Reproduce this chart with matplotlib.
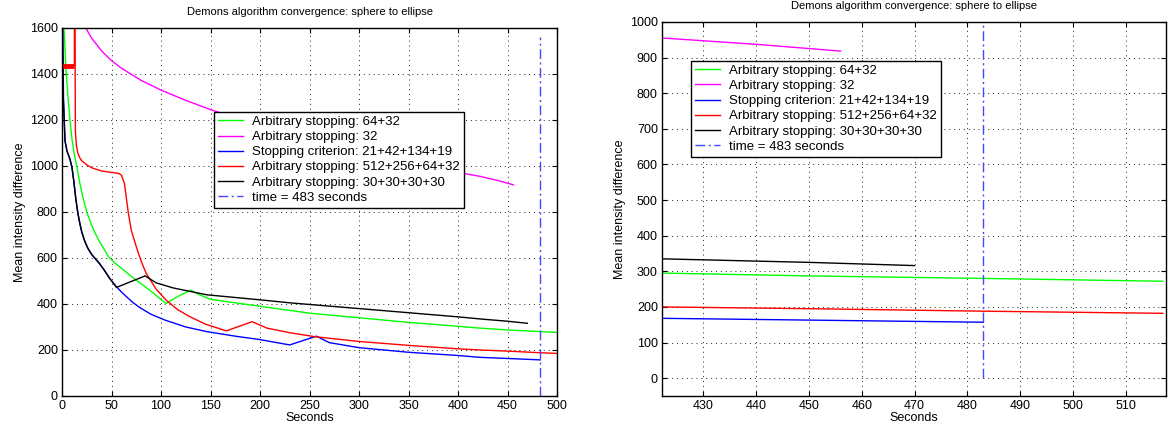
import matplotlib
matplotlib.use('Agg')  # no display
import matplotlib.pyplot as plt

plt.rcParams['font.family'] = ['Liberation Sans', 'DejaVu Sans']

TITLE = 'Demons algorithm convergence: sphere to ellipse'
STOP_TIME = 483

# series (seconds, mean intensity difference)
green_t = [1.5, 2, 4, 6, 8, 10, 12, 15, 18, 21, 25, 29, 33, 38, 43, 47, 55, 62, 70, 76, 83,
           90, 97, 105, 118, 130, 140, 150, 175, 200, 250, 300, 350, 400, 422, 450, 483, 500,
           517]
green_v = [1750, 1600, 1420, 1300, 1200, 1120, 1060, 995, 925, 865, 800, 752, 712, 670, 635,
           605, 572, 548, 520, 500, 478, 455, 430, 402, 435, 460, 438, 420, 405, 390, 360,
           340, 320, 303, 295, 287, 280, 276, 272]

magenta_t = [24, 30, 40, 50, 60, 80, 100, 125, 150, 200, 250, 300, 350, 400, 422, 440, 456]
magenta_v = [1600, 1555, 1500, 1458, 1425, 1372, 1330, 1285, 1245, 1175, 1115, 1062, 1010,
             972, 955, 937, 918]

blue_t = [0.5, 1.5, 3, 5, 8, 10, 12, 14, 16, 18, 20, 23, 26, 30, 34, 38, 43, 48, 55, 60, 65,
          72, 79, 90, 104, 125, 146, 175, 200, 230, 257, 270, 300, 350, 400, 422, 450, 483]
blue_v = [1700, 1300, 1110, 1065, 1030, 995, 930, 855, 795, 750, 712, 672, 643, 615, 595,
          575, 545, 512, 475, 452, 432, 405, 383, 355, 330, 300, 280, 260, 245, 222, 260, 232,
          210, 190, 176, 168, 163, 157]

red_t = [0, 12.5, 12.5, 13, 13.5, 14.5, 16, 18, 20, 25, 30, 40, 50, 57, 60, 63, 65, 67, 70,
         75, 80, 85, 95, 105, 117, 129, 145, 166, 192, 207, 230, 255, 300, 350, 400, 422,
         450, 483, 517]
red_v = [1435, 1435, 1700, 1700, 1150, 1090, 1055, 1035, 1022, 1005, 992, 978, 972, 968,
         960, 925, 860, 795, 720, 649, 585, 533, 465, 417, 375, 345, 312, 283, 323, 295, 275,
         258, 237, 220, 205, 200, 195, 188, 182]

black_t = [0.2, 1.2, 3, 5, 8, 10, 12, 14, 16, 18, 20, 23, 26, 30, 34, 38, 43, 48, 55, 70,
           84, 95, 112, 146, 200, 230, 300, 350, 400, 422, 450, 470]
black_v = [1700, 1300, 1110, 1065, 1030, 995, 930, 855, 795, 750, 712, 672, 643, 615, 595,
           575, 545, 512, 472, 498, 522, 492, 470, 440, 418, 405, 380, 362, 344, 335, 325,
           316]

labels = ['Arbitrary stopping: 64+32', 'Arbitrary stopping: 32',
          'Stopping criterion: 21+42+134+19', 'Arbitrary stopping: 512+256+64+32',
          'Arbitrary stopping: 30+30+30+30', 'time = 483 seconds']

left_xticks = list(range(0, 501, 50))
left_yticks = list(range(0, 1601, 200))
right_xticks = list(range(430, 511, 10))
right_yticks = list(range(0, 1001, 100))

fig = plt.figure(figsize=(11.68, 4.34), dpi=100)
ax1 = fig.add_axes([0.0531, 0.0876, 0.4238, 0.848])
ax2 = fig.add_axes([0.5668, 0.0876, 0.4315, 0.862])


def draw(ax):
    ax.plot(green_t, green_v, color='#00ff00', lw=1)
    ax.plot(magenta_t, magenta_v, color='#ff00ff', lw=1)
    ax.plot(blue_t, blue_v, color='#0000ff', lw=1)
    ax.plot(red_t, red_v, color='#ff0000', lw=1)
    ax.plot(black_t, black_v, color='black', lw=1)
    ax.plot([STOP_TIME, STOP_TIME], [0, 1560], color='#4646ff', lw=1,
            dashes=(7, 2.5, 1.5, 2.5))
    # the thick flat bit at the start of the red run
    ax.plot(red_t[:2], red_v[:2], color='#ff0000', lw=3.5, solid_capstyle='butt')
    ax.grid(True, color='#222222', lw=0.7, linestyle=(0, (1, 4)))
    ax.tick_params(direction='in', top=True, right=True, length=3.5, labelsize=9,
                   pad=3, width=0.8)
    for s in ax.spines.values():
        s.set_linewidth(1.0)
    ax.set_title(TITLE, fontsize=8, pad=9)
    ax.set_xlabel('Seconds', fontsize=9, labelpad=0)
    ax.set_ylabel('Mean intensity difference', fontsize=9, labelpad=3)
    handles = ax.get_lines()[:6]
    leg = ax.legend(handles, labels, fontsize=9.5, fancybox=False, framealpha=1,
                    edgecolor='black', handlelength=1.9, labelspacing=0.22,
                    borderpad=0.3, handletextpad=0.7, borderaxespad=0,
                    loc='upper left')
    leg.get_frame().set_linewidth(1.0)
    return leg


leg1 = draw(ax1)
leg1.set_bbox_to_anchor((0.307, 0.772), transform=ax1.transAxes)
ax1.set_xlim(0, 500)
ax1.set_ylim(0, 1600)
ax1.set_xticks(left_xticks)
ax1.set_yticks(left_yticks)

leg2 = draw(ax2)
leg2.set_bbox_to_anchor((0.0575, 0.896), transform=ax2.transAxes)
ax2.set_xlim(422.2, 517.6)
ax2.set_ylim(-50, 1000)
ax2.set_xticks(right_xticks)
ax2.set_yticks(right_yticks)

plt.savefig('out.png', dpi=100)
